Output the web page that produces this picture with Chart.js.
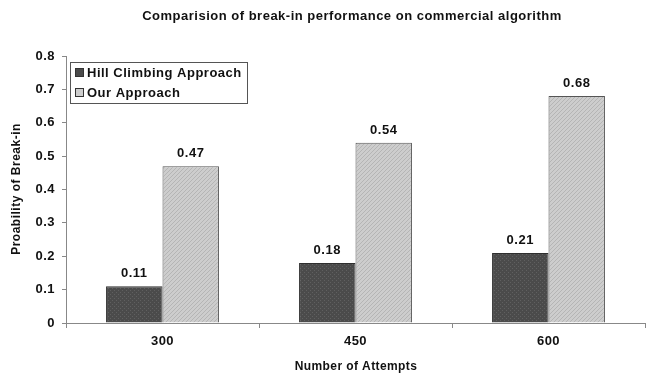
<!DOCTYPE html>
<html>
<head>
<meta charset="utf-8">
<script src="https://cdn.jsdelivr.net/npm/chart.js@4"></script>
<style>
  html, body { margin: 0; padding: 0; background: #fff; }
  #wrap { width: 650px; height: 375px; }
</style>
</head>
<body>
<div id="wrap"><canvas id="c" width="650" height="375"></canvas></div>
<script>
// Chart data
const attempts = ['300', '450', '600'];
const hillClimbing = [0.11, 0.18, 0.21];
const ourApproach = [0.47, 0.54, 0.68];
const seriesNames = ['Hill Climbing Approach', 'Our Approach'];
const yTicks = [0, 0.1, 0.2, 0.3, 0.4, 0.5, 0.6, 0.7, 0.8];
const chartTitle = 'Comparision of break-in performance on commercial algorithm';
const xTitle = 'Number of Attempts';
const yTitle = 'Proability of Break-in';

const FONT = '"Liberation Sans", Arial, sans-serif';
const SPACING = '0.5px';

// Small textured fills for the bars
function makePattern(base, accent, kind) {
  const p = document.createElement('canvas');
  p.width = 4; p.height = 4;
  const g = p.getContext('2d');
  g.fillStyle = base; g.fillRect(0, 0, 4, 4);
  g.fillStyle = accent;
  if (kind === 'dots') {
    g.fillRect(0, 0, 1, 1); g.fillRect(2, 2, 1, 1);
  } else {
    for (let i = 0; i < 4; i++) g.fillRect(i, 3 - i, 1, 1);
  }
  return g.createPattern(p, 'repeat');
}
const ctx = document.getElementById('c').getContext('2d');
const darkFill = makePattern('#4b4b4b', '#606060', 'dots');
const lightFill = makePattern('#cdcdcd', '#b5b5b5', 'hatch');
const swatchColors = ['#4b4b4b', '#cdcdcd'];

// Slightly open letter spacing for all text
const spacing = {
  id: 'spacing',
  beforeDraw(chart) { chart.ctx.letterSpacing = SPACING; }
};

// Value labels above each bar
const valueLabels = {
  id: 'valueLabels',
  afterDatasetsDraw(chart) {
    const c = chart.ctx;
    c.save();
    c.letterSpacing = SPACING;
    c.font = 'bold 13px ' + FONT;
    c.fillStyle = '#111';
    c.textAlign = 'center';
    c.textBaseline = 'bottom';
    chart.data.datasets.forEach((ds, i) => {
      chart.getDatasetMeta(i).data.forEach((bar, j) => {
        c.fillText(ds.data[j].toFixed(2), bar.x, bar.y - 6);
      });
    });
    c.restore();
  }
};

// Title, axis titles and the boxed legend
const decorations = {
  id: 'decorations',
  afterDraw(chart) {
    const c = chart.ctx;
    c.save();
    c.fillStyle = '#111';
    c.textAlign = 'center';
    c.textBaseline = 'middle';
    c.letterSpacing = SPACING;
    c.font = 'bold 13px ' + FONT;
    c.fillText(chartTitle, 352, 16);
    c.letterSpacing = '0.4px';
    c.font = 'bold 12px ' + FONT;
    c.fillText(xTitle, 356, 367);
    c.save();
    c.letterSpacing = SPACING;
    c.translate(17, 189);
    c.rotate(-Math.PI / 2);
    c.fillText(yTitle, 0, 0);
    c.restore();

    // legend box
    c.strokeStyle = '#555';
    c.lineWidth = 1;
    c.fillStyle = '#fff';
    c.fillRect(70.5, 62.5, 177, 41);
    c.strokeRect(70.5, 62.5, 177, 41);
    c.letterSpacing = SPACING;
    c.font = 'bold 13px ' + FONT;
    c.textAlign = 'left';
    const rows = [73, 93];
    chart.data.datasets.forEach((ds, i) => {
      c.fillStyle = swatchColors[i];
      c.fillRect(76, rows[i] - 4, 7, 7);
      c.strokeStyle = '#333';
      c.strokeRect(75.5, rows[i] - 4.5, 8, 8);
      c.fillStyle = '#111';
      c.fillText(ds.label, 87, rows[i]);
    });
    c.restore();
  }
};

new Chart(ctx, {
  type: 'bar',
  data: {
    labels: attempts,
    datasets: [
      { label: seriesNames[0], data: hillClimbing, backgroundColor: darkFill, borderColor: '#2e2e2e', borderWidth: 1 },
      { label: seriesNames[1], data: ourApproach, backgroundColor: lightFill, borderColor: '#555', borderWidth: 1 }
    ]
  },
  options: {
    responsive: false,
    animation: false,
    events: [],
    layout: { padding: { top: 56, right: 5, left: 0, bottom: 0 } },
    datasets: { bar: { categoryPercentage: 0.585, barPercentage: 1.0 } },
    plugins: {
      legend: { display: false },
      title: { display: false },
      tooltip: { enabled: false }
    },
    scales: {
      x: {
        offset: true,
        grid: { offset: true, drawOnChartArea: false, drawTicks: true, tickLength: 5, color: '#888' },
        border: { color: '#888', width: 1 },
        ticks: { color: '#111', font: { family: FONT, size: 13, weight: 'bold' }, padding: 6 },
        afterFit(s) { s.height = 52; }
      },
      y: {
        min: 0, max: 0.8,
        afterBuildTicks(s) { s.ticks = yTicks.map(v => ({ value: v })); },
        grid: { drawOnChartArea: false, drawTicks: true, tickLength: 4, color: '#888' },
        border: { color: '#888', width: 1 },
        ticks: {
          color: '#111', font: { family: FONT, size: 13, weight: 'bold' }, padding: 7,
          callback: v => String(Math.round(v * 10) / 10)
        },
        afterFit(s) { s.width = 66; }
      }
    }
  },
  plugins: [spacing, valueLabels, decorations]
});
</script>
</body>
</html>
